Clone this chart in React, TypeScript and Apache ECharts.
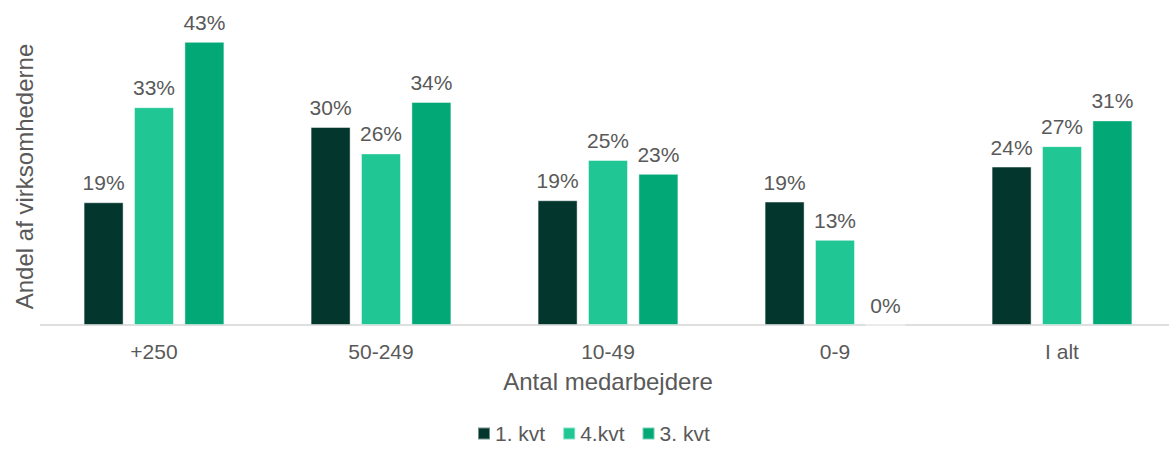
import React, { useEffect, useRef } from "react";
import * as echarts from "echarts";

const categories = ["+250", "50-249", "10-49", "0-9", "I alt"];
const seriesNames = ["1. kvt", "4.kvt", "3. kvt"];
const q1Values = [18.6, 30.0, 18.9, 18.7, 24.0];
const q4Values = [33.0, 26.0, 25.0, 12.9, 27.1];
const q3Values = [42.9, 33.8, 22.9, 0, 31.0];
const colors = ["#03362d", "#20c794", "#02a977"];

const FONT = "'Liberation Sans', Arial, sans-serif";
const TEXT = "#595959";

export default function App() {
  const ref = useRef<HTMLDivElement>(null);
  useEffect(() => {
    if (!ref.current) return;
    const chart = echarts.init(ref.current, undefined, { renderer: "svg" });
    const values = [q1Values, q4Values, q3Values];
    chart.setOption({
      animation: false,
      textStyle: { fontFamily: FONT },
      grid: { left: 40.5, width: 1135, top: 28, bottom: 125, containLabel: false },
      legend: {
        data: seriesNames,
        left: 472,
        top: 418,
        icon: "rect",
        itemWidth: 12,
        itemHeight: 12,
        itemGap: 17,
        textStyle: { fontSize: 21, lineHeight: 20, color: TEXT, fontFamily: FONT },
      },
      xAxis: {
        type: "category",
        data: categories,
        name: "Antal medarbejdere",
        nameLocation: "middle",
        nameGap: 44,
        nameTextStyle: { fontSize: 24, color: TEXT, fontFamily: FONT },
        axisLine: { show: true, lineStyle: { color: "#d4d4d4", width: 1.5 } },
        axisTick: { show: false },
        axisLabel: { fontSize: 21, color: TEXT, margin: 16, fontFamily: FONT },
      },
      yAxis: {
        type: "value",
        min: 0,
        max: 45,
        name: "Andel af virksomhederne",
        nameLocation: "middle",
        nameGap: 4,
        nameTextStyle: { fontSize: 24, color: TEXT, fontFamily: FONT },
        axisLine: { show: false },
        axisTick: { show: false },
        axisLabel: { show: false },
        splitLine: { show: false },
      },
      series: seriesNames.map((name, i) => ({
        name,
        type: "bar",
        data: values[i],
        barWidth: 40,
        barGap: "26%",
        itemStyle: { color: colors[i], borderColor: "rgba(255,255,255,0.45)", borderWidth: 1 },
        label: {
          show: true,
          position: "top",
          distance: 9,
          fontSize: 21,
          color: TEXT,
          fontFamily: FONT,
          formatter: (p: any) => Math.round(p.value) + "%",
        },
      })),
    });
    return () => chart.dispose();
  }, []);
  return (
    <div
      style={{ position: "absolute", left: 0, top: 0, width: 1169, height: 450, overflow: "hidden", background: "#fff" }}
    >
      <div ref={ref} style={{ width: 1180, height: 450 }} />
    </div>
  );
}
